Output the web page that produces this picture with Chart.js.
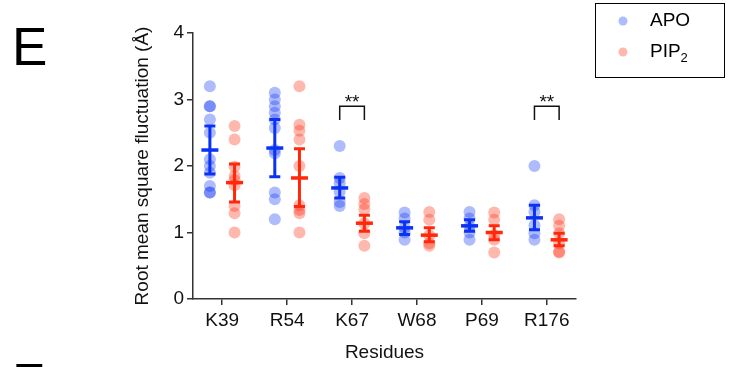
<!DOCTYPE html>
<html>
<head>
<meta charset="utf-8">
<script src="https://cdn.jsdelivr.net/npm/chart.js@4.4.1/dist/chart.umd.min.js"></script>
<style>
  html, body { margin: 0; padding: 0; background: #fff; }
  #wrap { width: 737px; height: 367px; }
</style>
</head>
<body>
<div id="wrap"><canvas id="rmsfChart" width="737" height="367"></canvas></div>
<script>
// values
var residues = ["K39", "R54", "K67", "W68", "P69", "R176"];

var apoValues = [
  [3.2, 2.9, 2.9, 2.7, 2.5, 2.1, 2.0, 1.9, 1.7, 1.6, 1.6],
  [3.1, 3.0, 2.9, 2.8, 2.7, 2.57, 2.24, 2.19, 1.6, 1.5, 1.2],
  [2.3, 1.82, 1.74, 1.61, 1.46, 1.4],
  [1.3, 1.21, 1.07, 1.0, 0.89],
  [1.31, 1.21, 1.09, 1.0, 0.89],
  [2.0, 1.41, 1.31, 1.11, 0.99, 0.89]
];
var apoMean = [2.24, 2.27, 1.67, 1.07, 1.10, 1.22];
var apoLow  = [1.88, 1.84, 1.52, 0.97, 1.02, 1.04];
var apoHigh = [2.60, 2.70, 1.83, 1.16, 1.19, 1.41];

var pipValues = [
  [2.6, 2.4, 1.99, 1.85, 1.79, 1.71, 1.4, 1.29, 1.0],
  [3.2, 2.62, 2.53, 2.4, 2.0, 1.41, 1.34, 1.29, 1.0],
  [1.52, 1.43, 1.35, 1.14, 0.99, 0.8],
  [1.31, 1.19, 0.96, 0.84, 0.8],
  [1.3, 1.19, 0.96, 0.89, 0.7],
  [1.2, 1.1, 0.99, 0.84, 0.71, 0.7]
];
var pipMean = [1.75, 1.82, 1.14, 0.96, 1.00, 0.89];
var pipLow  = [1.46, 1.39, 1.02, 0.86, 0.89, 0.80];
var pipHigh = [2.03, 2.26, 1.26, 1.07, 1.10, 0.99];

var yTicks = [0, 1, 2, 3, 4];
var sigResidues = ["K67", "R176"];
var sigLabel = "**";

var FONT = "Arial, 'Liberation Sans', Helvetica, sans-serif";
var blue = "rgb(10,50,245)";
var blueDot = "rgba(10,50,245,0.33)";
var red = "rgb(255,40,10)";
var redDot = "rgba(255,40,10,0.33)";
var shift = 0.19;

function toPoints(values, off) {
  var pts = [];
  values.forEach(function (list, i) {
    list.forEach(function (v) { pts.push({ x: i + off, y: v }); });
  });
  return pts;
}

// mean + error bars, significance brackets, legend, panel letters
var extras = {
  id: "extras",
  afterDatasetsDraw: function (chart) {
    var ctx = chart.ctx;
    var xs = chart.scales.x, ys = chart.scales.y;
    var groups = [
      { off: -shift, color: blue, mean: apoMean, low: apoLow, high: apoHigh },
      { off: shift, color: red, mean: pipMean, low: pipLow, high: pipHigh }
    ];
    ctx.save();
    groups.forEach(function (g) {
      ctx.strokeStyle = g.color;
      g.mean.forEach(function (m, i) {
        var x = xs.getPixelForValue(i + g.off);
        var yl = ys.getPixelForValue(g.low[i]);
        var yh = ys.getPixelForValue(g.high[i]);
        var ym = ys.getPixelForValue(m);
        ctx.lineWidth = 3;
        ctx.beginPath();
        ctx.moveTo(x, yl); ctx.lineTo(x, yh);
        ctx.moveTo(x - 5.5, yl); ctx.lineTo(x + 5.5, yl);
        ctx.moveTo(x - 5.5, yh); ctx.lineTo(x + 5.5, yh);
        ctx.stroke();
        ctx.lineWidth = 3.5;
        ctx.beginPath();
        ctx.moveTo(x - 8.5, ym); ctx.lineTo(x + 8.5, ym);
        ctx.stroke();
      });
    });

    // brackets
    ctx.strokeStyle = "#111";
    ctx.fillStyle = "#111";
    ctx.lineWidth = 1.5;
    ctx.font = "19px " + FONT;
    ctx.textAlign = "center";
    ctx.textBaseline = "alphabetic";
    sigResidues.forEach(function (r) {
      var i = residues.indexOf(r);
      var x1 = xs.getPixelForValue(i - shift);
      var x2 = xs.getPixelForValue(i + shift);
      var yt = ys.getPixelForValue(2.9);
      var yb = ys.getPixelForValue(2.69);
      ctx.beginPath();
      ctx.moveTo(x1, yb); ctx.lineTo(x1, yt); ctx.lineTo(x2, yt); ctx.lineTo(x2, yb);
      ctx.stroke();
      ctx.fillText(sigLabel, (x1 + x2) / 2, yt + 2);
    });

    // legend
    ctx.lineWidth = 1;
    ctx.strokeStyle = "#000";
    ctx.strokeRect(595.5, 3.5, 129, 74);
    ctx.fillStyle = blueDot;
    ctx.beginPath(); ctx.arc(623, 21, 4.5, 0, Math.PI * 2); ctx.fill();
    ctx.fillStyle = redDot;
    ctx.beginPath(); ctx.arc(623, 52, 4.5, 0, Math.PI * 2); ctx.fill();
    ctx.fillStyle = "#000";
    ctx.textAlign = "left";
    ctx.textBaseline = "middle";
    ctx.font = "19px " + FONT;
    ctx.fillText("APO", 650, 21);
    ctx.fillText("PIP", 650, 52);
    var w = ctx.measureText("PIP").width;
    ctx.font = "13px " + FONT;
    ctx.fillText("2", 650 + w, 58);

    // panel letters
    ctx.font = "53px " + FONT;
    ctx.textBaseline = "alphabetic";
    ctx.fillText("E", 12, 65);
    ctx.fillText("F", 12, 401);
    ctx.restore();
  }
};

var ctx = document.getElementById("rmsfChart").getContext("2d");
var myChart = new Chart(ctx, {
  type: "scatter",
  data: {
    datasets: [{
      label: "APO",
      data: toPoints(apoValues, -shift),
      backgroundColor: blueDot,
      borderWidth: 0,
      pointRadius: 6
    }, {
      label: "PIP2",
      data: toPoints(pipValues, shift),
      backgroundColor: redDot,
      borderWidth: 0,
      pointRadius: 6
    }]
  },
  options: {
    responsive: false,
    animation: false,
    layout: { padding: { left: 126, top: 33, right: 161, bottom: 0 } },
    plugins: { legend: { display: false }, tooltip: { enabled: false } },
    scales: {
      x: {
        type: "linear",
        min: -0.45,
        max: residues.length - 0.55,
        afterBuildTicks: function (scale) {
          scale.ticks = residues.map(function (r, i) { return { value: i }; });
        },
        afterFit: function (scale) { scale.height = 68; },
        ticks: {
          callback: function (v) { return residues[v]; },
          font: { size: 19, family: FONT },
          color: "#111",
          padding: 4,
          maxRotation: 0
        },
        grid: { drawOnChartArea: false, drawTicks: true, tickLength: 6, color: "#333", lineWidth: 1.5 },
        border: { display: true, color: "#333", width: 1.5 },
        title: {
          display: true,
          text: "Residues",
          font: { size: 19, family: FONT },
          color: "#111",
          padding: { top: 0, bottom: 3 }
        }
      },
      y: {
        min: 0,
        max: 4,
        afterBuildTicks: function (scale) {
          scale.ticks = yTicks.map(function (v) { return { value: v }; });
        },
        afterFit: function (scale) { scale.width = 67; },
        ticks: {
          font: { size: 19, family: FONT },
          color: "#111",
          padding: 3
        },
        grid: { drawOnChartArea: false, drawTicks: true, tickLength: 6, color: "#333", lineWidth: 1.5 },
        border: { display: true, color: "#333", width: 1.5 },
        title: {
          display: true,
          text: "Root mean square fluctuation (Å)",
          font: { size: 19, family: FONT },
          color: "#111",
          padding: { top: 5, bottom: 0 }
        }
      }
    }
  },
  plugins: [extras]
});
</script>
</body>
</html>
